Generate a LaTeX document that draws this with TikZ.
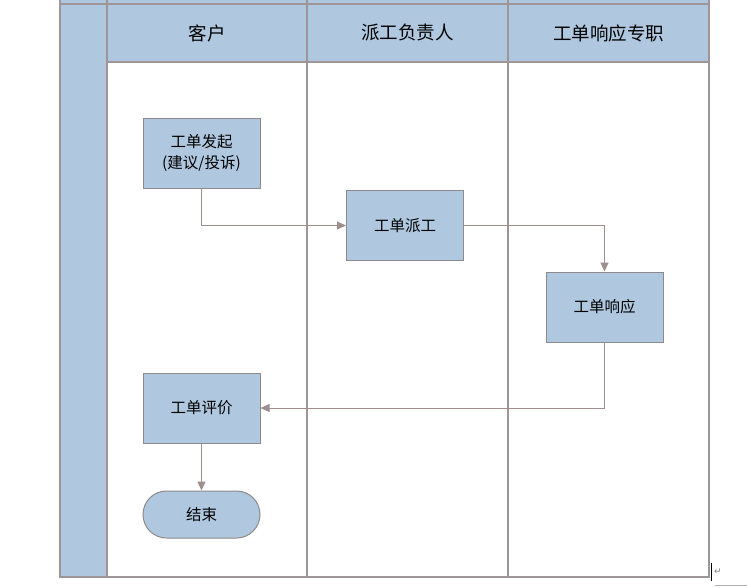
\documentclass[tikz,border=0pt]{standalone}
\usepackage{fontspec}
\setmainfont{Noto Sans CJK SC}
\newfontfamily\symfont{DejaVu Sans}
\usetikzlibrary{arrows.meta}
\definecolor{blu}{HTML}{AFC8DF}
\definecolor{lanec}{HTML}{9E9696}
\definecolor{boxc}{HTML}{8E8A8A}
\definecolor{arrc}{HTML}{9E8E8E}
\tikzset{
  lanehead/.style={draw=lanec, line width=1.6pt, fill=blu, minimum width=201, minimum height=58, inner sep=0pt, font=\fontsize{18.5}{18.5}\selectfont},
  proc/.style={draw=boxc, line width=1pt, fill=blu, minimum width=117, minimum height=70, inner sep=2pt, align=center, font=\fontsize{15.5}{21}\selectfont},
  termbox/.style={proc, minimum height=47, rounded corners=23.5},
  conn/.style={draw=arrc, line width=1pt, -{Triangle[length=9pt,width=8pt]}},
  frame/.style={draw=lanec, line width=1.6pt}
}
\begin{document}
\begin{tikzpicture}[x=1pt,y=-1pt]
\useasboundingbox (0,0) rectangle (747,587);
\fill[white] (0,0) rectangle (747,587);
% left strip and top band
\fill[blu] (60,0) rectangle (107,577);
\fill[blu] (107,0) rectangle (709,62);
% headers
\node[lanehead] (h1) at (207,33) {客户};
\node[lanehead] (h2) at (407.5,33) {派工负责人};
\node[lanehead] (h3) at (608.5,33) {工单响应专职};
% frame lines
\draw[frame] (60,0) -- (60,577) -- (709,577) -- (709,0);
\draw[frame] (107,0) -- (107,577);
\draw[frame] (307,0) -- (307,577);
\draw[frame] (508,0) -- (508,577);
\draw[frame] (60,4) -- (709,4);
% process boxes
\node[proc] (start) at (201.5,153) {工单发起\\(建议/投诉)};
\node[proc] (dispatch) at (405,225.5) {工单派工};
\node[proc] (respond) at (604.5,307) {工单响应};
\node[proc] (eval) at (201.5,408) {工单评价};
\node[termbox] (end) at (201.5,514.5) {结束};
% connectors
\draw[conn] (start.south) |- (dispatch.west);
\draw[conn] (dispatch.east) -| (respond.north);
\draw[conn] (respond.south) |- (eval.east);
\draw[conn] (eval.south) -- (end.north);
% word-processor marks
\node[text=gray, font=\symfont\fontsize{9}{9}\selectfont, inner sep=0pt] (para) at (718,572) {↵};
\draw[black, line width=0.8pt] (711.5,563) -- (711.5,581);
\draw[gray!60, line width=0.8pt] (715,585) -- (747,585);
\end{tikzpicture}
\end{document}
